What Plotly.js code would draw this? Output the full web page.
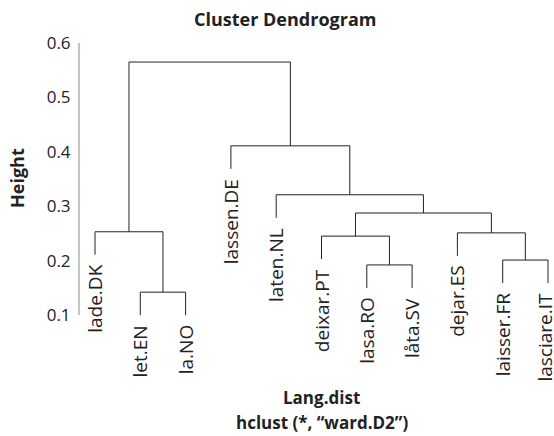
<!DOCTYPE html>
<html>
<head>
<meta charset="utf-8">
<script src="https://cdn.plot.ly/plotly-3.0.1.min.js"></script>
<style>html,body{margin:0;padding:0;background:#fff;}#chart{width:554px;height:436px;}</style>
</head>
<body>
<div id="chart"></div>
<script>
// Leaf labels in dendrogram order (left to right)
var leafLabels = ["lade.DK", "let.EN", "la.NO", "lassen.DE", "laten.NL", "deixar.PT", "lasa.RO", "låta.SV", "dejar.ES", "laisser.FR", "lasciare.IT"];
// hclust-style merge matrix: negative = leaf (1-based order index), positive = earlier merge step
var mergeLeft  = [-2, -7, -10, -6, -9, -1, 4, -5, -4, 6];
var mergeRight = [-3, -8, -11,  2,  3,  1, 5,  7,  8, 9];
var mergeHeight = [0.142, 0.192, 0.201, 0.245, 0.251, 0.253, 0.2875, 0.321, 0.411, 0.565];
var yTicks = [0.1, 0.2, 0.3, 0.4, 0.5, 0.6];
var hang = 0.1;

var hRange = Math.max.apply(null, mergeHeight) - Math.min.apply(null, mergeHeight);
var hangLen = hang * hRange;

var nodeX = [], nodeY = [];
var xs = [], ys = [];
var leafBottom = new Array(leafLabels.length);
function childPos(c, parentH) {
  if (c < 0) {
    var i = -c;
    var yb = parentH - hangLen;
    leafBottom[i - 1] = yb;
    return {x: i, y: yb};
  }
  return {x: nodeX[c - 1], y: nodeY[c - 1]};
}
for (var k = 0; k < mergeHeight.length; k++) {
  var h = mergeHeight[k];
  var a = childPos(mergeLeft[k], h);
  var b = childPos(mergeRight[k], h);
  xs.push(a.x, a.x, b.x, b.x, null);
  ys.push(a.y, h, h, b.y, null);
  nodeX.push((a.x + b.x) / 2);
  nodeY.push(h);
}

var W = 554, H = 436;
var L = 79, R = 0, T = 40, B = 106;
var PW = W - L - R, PH = H - T - B;
function px(x) { return (x - L) / PW; }
function py(y) { return ((H - B) - y) / PH; }

var FONT = "Open Sans, Noto Sans, sans-serif";
var annotations = leafLabels.map(function (lab, i) {
  return {
    x: i + 1, y: leafBottom[i], xref: "x", yref: "y",
    text: lab, showarrow: false, textangle: -90,
    xanchor: "center", yanchor: "top", yshift: -8,
    xshift: (i === leafLabels.length - 1) ? -3 : 0,
    font: {family: FONT, size: 19, color: "#222"}
  };
});
var boldFont = {family: FONT, size: 18, color: "#222"};
var subFont = {family: FONT, size: 17, color: "#222"};
annotations.push({
  x: px(321.5), y: py(411), xref: "paper", yref: "paper", xanchor: "center", yanchor: "bottom",
  showarrow: false, text: "<b>Lang.dist</b>", font: subFont
}, {
  x: px(322), y: py(436), xref: "paper", yref: "paper", xanchor: "center", yanchor: "bottom",
  showarrow: false, text: "<b>hclust (*, “ward.D2”)</b>", font: subFont
}, {
  x: px(17), y: py(178), xref: "paper", yref: "paper", xanchor: "center", yanchor: "middle",
  showarrow: false, textangle: -90, text: "<b>Height</b>", font: boldFont
}, {
  x: px(284.5), y: py(19), xref: "paper", yref: "paper", xanchor: "center", yanchor: "middle",
  showarrow: false, text: "<b>Cluster Dendrogram</b>", font: boldFont
});

var trace = {
  x: xs, y: ys, type: "scatter", mode: "lines",
  line: {color: "#222", width: 1}, hoverinfo: "skip", connectgaps: false, cliponaxis: false
};

var pxPerUnitX = 45.3;
var x0 = 1 - (95 - L) / pxPerUnitX;
var x1 = x0 + PW / pxPerUnitX;
var pxPerUnitY = 544;
var y1 = 0.6 + (43 - T) / pxPerUnitY;
var y0 = 0.1 - ((H - B) - 315) / pxPerUnitY;

var layout = {
  width: W, height: H,
  margin: {l: L, r: R, t: T, b: B, pad: 0},
  paper_bgcolor: "#fff", plot_bgcolor: "#fff",
  showlegend: false,
  xaxis: {range: [x0, x1], visible: false, fixedrange: true},
  yaxis: {
    range: [y0, y1], tickvals: yTicks, ticktext: yTicks.map(function (v) { return v.toFixed(1); }),
    showgrid: false, zeroline: false, showline: false, ticks: "outside", ticklen: 4, tickcolor: "rgba(0,0,0,0)",
    tickfont: {family: FONT, size: 17, color: "#222"}, fixedrange: true
  },
  shapes: [{
    type: "line", xref: "paper", yref: "y", x0: 0, x1: 0,
    y0: yTicks[0], y1: yTicks[yTicks.length - 1],
    line: {color: "#888", width: 1}
  }],
  annotations: annotations
};

Plotly.newPlot("chart", [trace], layout, {staticPlot: true, displayModeBar: false});
</script>
</body>
</html>
